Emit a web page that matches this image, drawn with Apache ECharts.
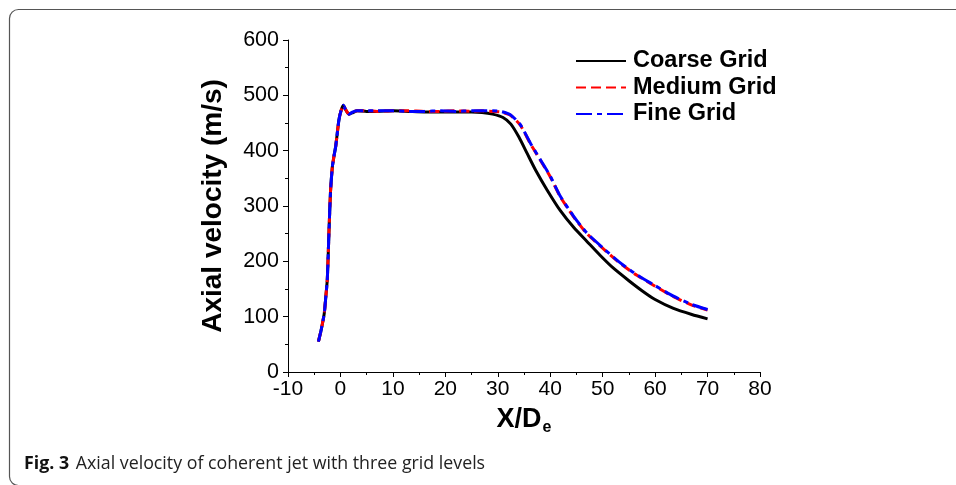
<!DOCTYPE html>
<html>
<head>
<meta charset="utf-8">
<script src="https://cdn.jsdelivr.net/npm/echarts@6/dist/echarts.min.js"></script>
<style>
  html, body { margin: 0; padding: 0; background: #fff; }
  #chart { width: 956px; height: 485px; }
</style>
</head>
<body>
<div id="chart"></div>
<script>
// Axial position along the jet, X/De
const xCoarse = [-4.2, -3.7, -3.1, -2.8, -2.5, -2.2, -1.9, -1.55, -1.2, -0.9, -0.3, 0.1, 0.55, 1.0, 1.6, 2.4, 3.2, 5, 7, 10, 13, 16, 19, 22, 25, 27, 29, 31, 32.5, 34, 35.6, 37.2, 39.4, 41.9, 44.5, 47, 49.5, 52, 55, 57.5, 60, 63.5, 67, 70];
const vCoarse = [55, 75, 105, 135, 168, 250, 325, 370, 392, 408, 455, 472, 482, 474, 466, 469, 472, 471, 471, 472, 471, 470, 470, 470, 470, 469, 466, 460, 448, 425, 395, 365, 329, 292, 261, 236, 211, 188, 165, 147, 131, 115, 104, 96];

const xMedium = [-4.2, -3.7, -3.1, -2.8, -2.5, -2.2, -1.9, -1.55, -1.2, -0.9, -0.3, 0.1, 0.55, 1.0, 1.6, 2.4, 3.2, 5, 7, 10, 13, 16, 19, 22, 25, 27, 29, 30.5, 32.4, 34.3, 36.2, 38.1, 40, 41.9, 44.5, 47, 50.2, 53, 56, 60, 63.5, 67, 70];
const vMedium = [55, 75, 105, 135, 168, 250, 325, 370, 392, 408, 455, 472, 482, 474, 466, 470, 472, 472, 471, 472, 472, 471, 471, 472, 471, 472, 471, 470, 464, 446, 413, 383, 353, 317, 280, 250, 222, 199, 178, 155, 136, 121, 112];

const xFine = [-4.2, -3.7, -3.1, -2.8, -2.5, -2.2, -1.9, -1.55, -1.2, -0.9, -0.3, 0.1, 0.55, 1.0, 1.6, 2.4, 3.2, 5, 7, 10, 13, 16, 19, 22, 25, 27, 29, 30.5, 32.4, 34.3, 36.2, 38.1, 40, 41.9, 44.5, 47, 50.2, 53, 56, 60, 63.5, 67, 70];
const vFine = [55, 75, 105, 135, 168, 250, 325, 370, 392, 408, 455, 472, 482, 474, 466, 470, 472, 472, 472, 472, 471, 471, 472, 471, 472, 472, 472, 471, 465, 447, 414, 384, 354, 318, 281, 251, 223, 200, 179, 156, 137, 122, 113];

const seriesNames = ['Coarse Grid', 'Medium Grid', 'Fine Grid'];
const captionLabel = 'Fig. 3';
const captionText = 'Axial velocity of coherent jet with three grid levels';

const pairs = (xs, ys) => xs.map((x, i) => [x, ys[i]]);

const chart = echarts.init(document.getElementById('chart'), null, { renderer: 'canvas' });

const axisFont = 'Arial, "Liberation Sans", sans-serif';
const captionFont = '"Open Sans", "Noto Sans", sans-serif';

chart.setOption({
  animation: false,
  backgroundColor: '#fff',
  grid: { left: 288, right: 196, top: 40, bottom: 113, containLabel: false },
  legend: {
    orient: 'vertical',
    left: 575,
    top: 49,
    padding: 0,
    itemWidth: 50,
    itemHeight: 14,
    itemGap: 2.5,
    // line-only keys: hide the marker that line legends draw by default
    itemStyle: { opacity: 0 },
    textStyle: { fontFamily: axisFont, fontWeight: 'bold', fontSize: 23.5, color: '#000', lineHeight: 24, padding: [0, 0, 0, 2] },
    data: seriesNames
  },
  xAxis: {
    type: 'value',
    min: -10, max: 80, interval: 10,
    name: '{a|X/D}{b|e}',
    nameLocation: 'middle',
    nameGap: 32,
    nameTextStyle: {
      rich: {
        a: { fontFamily: axisFont, fontWeight: 'bold', fontSize: 27, color: '#000' },
        b: { fontFamily: axisFont, fontWeight: 'bold', fontSize: 16, color: '#000', padding: [16, 0, 0, 1] }
      }
    },
    axisLine: { show: true, onZero: false, lineStyle: { color: '#000', width: 1 } },
    axisTick: { show: true, inside: false, length: 5, lineStyle: { color: '#000' } },
    minorTick: { show: true, splitNumber: 2, length: 3, lineStyle: { color: '#000' } },
    axisLabel: { fontFamily: axisFont, fontSize: 21, color: '#000', margin: 7 },
    splitLine: { show: false }
  },
  yAxis: {
    type: 'value',
    min: 0, max: 600, interval: 100,
    name: 'Axial velocity (m/s)',
    nameLocation: 'middle',
    nameGap: 61,
    nameTextStyle: { fontFamily: axisFont, fontWeight: 'bold', fontSize: 28, color: '#000' },
    axisLine: { show: true, onZero: false, lineStyle: { color: '#000', width: 1 } },
    axisTick: { show: true, inside: false, length: 5, lineStyle: { color: '#000' } },
    minorTick: { show: true, splitNumber: 2, length: 3, lineStyle: { color: '#000' } },
    axisLabel: { fontFamily: axisFont, fontSize: 21.5, color: '#000', margin: 9 },
    splitLine: { show: false }
  },
  series: [
    {
      name: seriesNames[0], type: 'line', data: pairs(xCoarse, vCoarse),
      showSymbol: false, symbol: 'none', smooth: 0.2,
      lineStyle: { color: '#000', width: 3, type: 'solid' },
      itemStyle: { color: '#000' }, z: 2
    },
    {
      name: seriesNames[1], type: 'line', data: pairs(xMedium, vMedium),
      showSymbol: false, symbol: 'none', smooth: 0.2,
      lineStyle: { color: '#ff0000', width: 3, type: [10, 5] },
      itemStyle: { color: '#ff0000' }, z: 3
    },
    {
      name: seriesNames[2], type: 'line', data: pairs(xFine, vFine),
      showSymbol: false, symbol: 'none', smooth: 0.2,
      lineStyle: { color: '#0000ff', width: 3, type: [16, 5, 5, 5] },
      itemStyle: { color: '#0000ff' }, z: 4
    }
  ],
  graphic: [
    {
      type: 'rect', silent: true, z: -1,
      shape: { x: 9.5, y: 9.5, width: 1000, height: 476, r: 9 },
      style: { fill: 'none', stroke: '#555', lineWidth: 1.2 }
    },
    {
      type: 'text', left: 24, top: 455, silent: true,
      style: {
        text: '{b|' + captionLabel + '}  {n|' + captionText + '}',
        rich: {
          b: { fontFamily: captionFont, fontWeight: 'bold', fontSize: 17.8, fill: '#111' },
          n: { fontFamily: captionFont, fontSize: 17.8, fill: '#222' }
        }
      }
    }
  ]
});
</script>
</body>
</html>
